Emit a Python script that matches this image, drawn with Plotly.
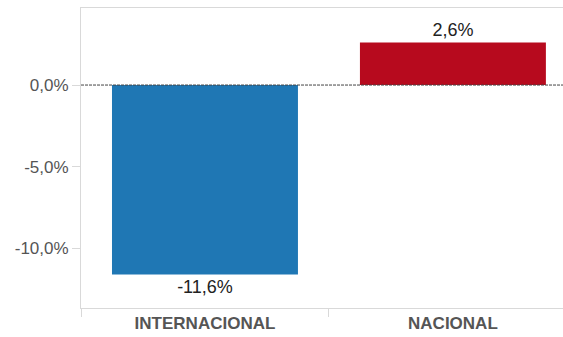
import plotly.graph_objects as go

# variacion por mercado (%)
mercados = ["INTERNACIONAL", "NACIONAL"]
variacion = [-11.6, 2.6]
colores = ["#1f77b4", "#b70a1e"]
y_ticks = [0, -5, -10]
y_labels = [f"{v:.1f}%".replace(".", ",") for v in y_ticks]

fig = go.Figure()
fig.add_trace(go.Bar(
    x=mercados,
    y=variacion,
    marker=dict(color=colores, line=dict(width=0)),
    width=0.75,
    text=variacion,
    texttemplate="%{y:.1f}%",
    textposition="outside",
    textfont=dict(size=18, color="#222222"),
    cliponaxis=False,
    hoverinfo="skip",
))

# linea del cero, discontinua
fig.add_shape(type="line", xref="paper", x0=0, x1=1, yref="y", y0=0, y1=0,
              line=dict(color="#444444", width=1, dash="3px,1px"), layer="above")

fig.update_layout(
    width=563, height=337,
    margin=dict(l=81, r=0, t=8, b=29),
    paper_bgcolor="white", plot_bgcolor="white",
    separators=",.",
    showlegend=False,
    font=dict(family="Liberation Sans, Arial, sans-serif", size=17, color="#555555"),
)
fig.update_xaxes(
    range=[-0.5, 1.444],
    showline=True, linecolor="#d9d9d9", linewidth=1, mirror=True,
    showgrid=False, zeroline=False,
    ticks="outside", tickson="boundaries", ticklen=8, tickcolor="#d9d9d9",
    tickfont=dict(size=17, color="#555555", weight="bold"),
    automargin=False,
)
fig.update_yaxes(
    range=[-13.66, 4.72],
    tickvals=y_ticks, ticktext=y_labels,
    showline=True, linecolor="#d9d9d9", linewidth=1,
    showgrid=False, zeroline=False,
    ticks="outside", ticklen=8, tickcolor="#d9d9d9",
    tickfont=dict(size=17, color="#555555"),
    automargin=False,
)

fig.write_html("out.html", config={"displayModeBar": False},
               post_script="document.body.style.margin='0';")
